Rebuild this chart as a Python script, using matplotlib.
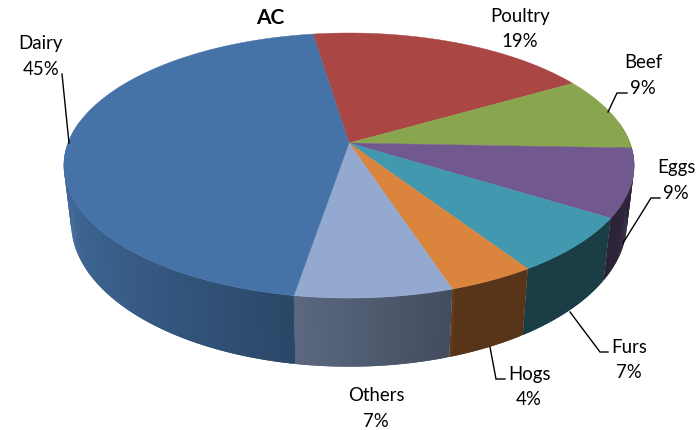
import numpy as np
import matplotlib
matplotlib.use("Agg")
import matplotlib.pyplot as plt
from matplotlib.collections import PolyCollection

# Data (clockwise from the Poultry slice)
categories = ["Poultry", "Beef", "Eggs", "Furs", "Hogs", "Others", "Dairy"]
shares = [19.0, 9.0, 8.3, 6.9, 4.2, 7.6, 45.0]
share_labels = ["19%", "9%", "9%", "7%", "4%", "7%", "45%"]
title = "AC"

top_colors = ["#AA4643", "#89A54E", "#71588F", "#4198AF", "#DB843D", "#93A9CF", "#4572A7"]

# Style / layout
START_DEG = -8.6
TOP = dict(cx=349.0, cy=143.0, a=281.0, b=128.7, k=0.17)
BOTTOM = dict(cx=349.0, cy=198.6, a=274.0, b=140.0, k=0.167)
label_pos = {"Poultry": (520, 29), "Beef": (643, 75.5), "Eggs": (676, 180.5),
             "Furs": (629, 360), "Hogs": (529, 387), "Others": (376, 408.5),
             "Dairy": (41, 56.5)}
leaders = [
    ([62, 69], [74, 143]),
    ([627, 617, 608], [93, 93, 112]),
    ([660, 651, 623], [198, 198, 243]),
    ([608, 600, 570], [352, 352, 312]),
    ([505, 496, 490], [379, 379, 347]),
]

plt.rcParams["font.family"] = ["Lato", "DejaVu Sans"]


def project(theta_deg, p):
    t = np.radians(theta_deg)
    u, v = np.sin(t), np.cos(t)
    w = 1 + p["k"] * v
    return p["cx"] + p["a"] * u / w, p["cy"] - p["b"] * v / w


def shade(color, f):
    return tuple(c * f for c in matplotlib.colors.to_rgb(color))


def wall_factor(u):
    return 0.4 if u > 0.32 else float(min(0.56 - 0.35 * u, 0.95))


fig = plt.figure(figsize=(6.96, 4.30), dpi=100)
ax = fig.add_axes([0, 0, 1, 1])
ax.set_xlim(0, 696)
ax.set_ylim(430, 0)
ax.axis("off")

edges = START_DEG + np.concatenate([[0], np.cumsum(shares)]) * 360.0 / sum(shares)

# side wall, as thin shaded strips; each overlaps the next so no seams show
polys, cols = [], []
for i, col in enumerate(top_colors):
    n = max(2, int((edges[i + 1] - edges[i]) / 0.5))
    th = np.linspace(edges[i], edges[i + 1], n + 1)
    step = th[1] - th[0]
    for a, b in zip(th[:-1], th[1:]):
        mid = np.radians((a + b) / 2)
        if np.cos(mid) > 0.17:
            continue
        over = b + step if b < edges[i + 1] - 1e-9 else b
        xa, ya = project(a, TOP)
        xb, yb = project(over, TOP)
        xc, yc = project(over, BOTTOM)
        xd, yd = project(a, BOTTOM)
        polys.append([(xa, ya), (xb, yb), (xc, yc), (xd, yd)])
        cols.append(shade(col, wall_factor(np.sin(mid))))
ax.add_collection(PolyCollection(polys, facecolors=cols, edgecolors="none", linewidths=0, zorder=1))

# top face
for i, col in enumerate(top_colors):
    th = np.linspace(edges[i], edges[i + 1], 200)
    x, y = project(th, TOP)
    x = np.concatenate([[TOP["cx"]], x])
    y = np.concatenate([[TOP["cy"]], y])
    ax.fill(x, y, facecolor=col, edgecolor=col, linewidth=0.3, zorder=2)

for lx, ly in leaders:
    ax.plot(lx, ly, color="black", lw=1.0, zorder=3, solid_joinstyle="miter")

for cat, lab in zip(categories, share_labels):
    x, y = label_pos[cat]
    ax.text(x, y, f"{cat}\n{lab}", ha="center", va="center", fontsize=13.4,
            linespacing=1.6, color="black", zorder=4)

ax.text(270, 18, title, ha="center", va="center", fontsize=15, fontweight="bold", color="black")

fig.savefig("out.png", dpi=100)
